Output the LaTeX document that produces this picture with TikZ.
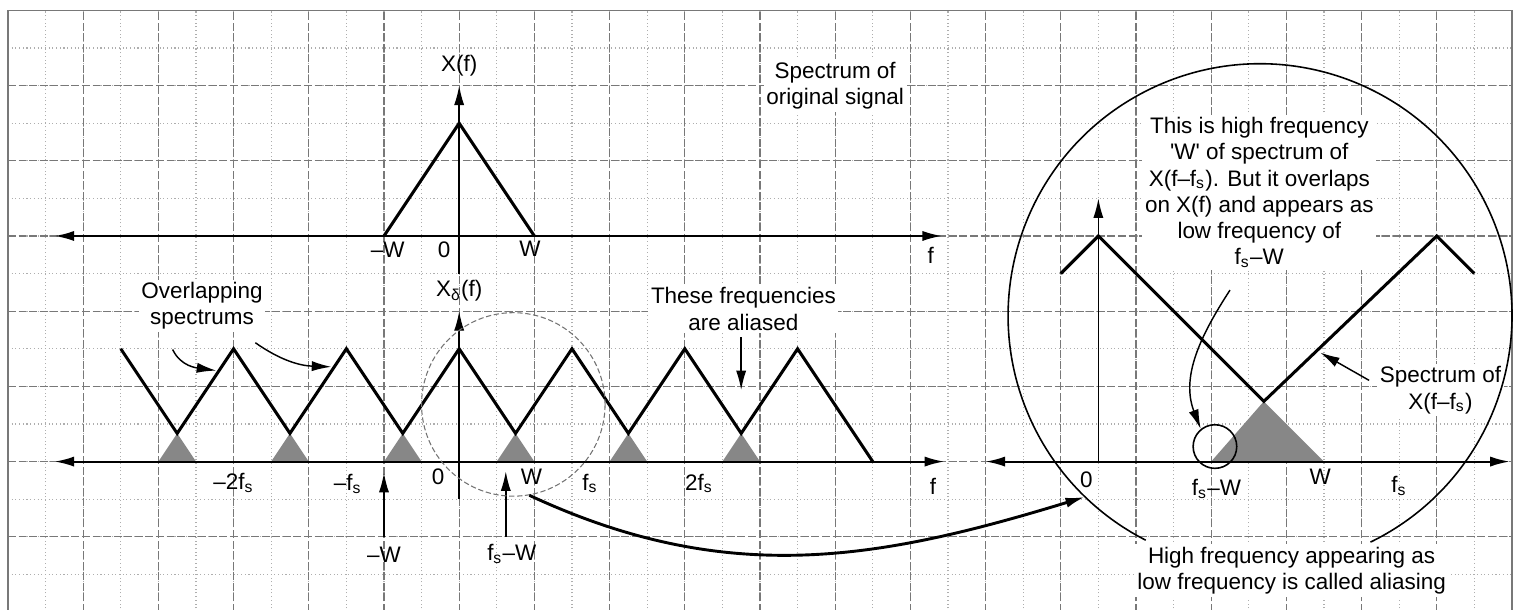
\documentclass[tikz,border=0pt]{standalone}
\usepackage{fontspec}
\setmainfont{Liberation Sans}
\usepackage{tikz}
\usetikzlibrary{arrows.meta, calc}
\definecolor{TemaRejilla}{RGB}{120,120,120}
\definecolor{TemaSombra}{RGB}{135,135,135}
\colorlet{RejillaFina}{TemaRejilla!60}

\begin{document}
\begin{tikzpicture}[font=\fontsize{8.5}{9.9}\selectfont, >={Latex[length=2.6mm,width=1.35mm]},
  eje/.style={<->, line width=0.75pt},
  flecha/.style={->, line width=0.55pt},
  espectro/.style={line width=1.15pt},
  sombra/.style={fill=TemaSombra},
  nota/.style={fill=white, inner sep=1pt, align=center},
  rotulo/.style={inner sep=1pt}]
  \useasboundingbox (-0.106,0.027) rectangle (20.12,8.138);
  \draw[RejillaFina, densely dotted, line width=0.4pt] (0,0) grid[step=0.5] (20,8);
  \draw[TemaRejilla, dash pattern=on 3pt off 1pt, line width=0.45pt] (0,0) grid (20,8);
  \draw[TemaRejilla, line width=0.6pt] (0,0) rectangle (20,8);

  \node[nota] (orig) at (11.0,7.0) {Spectrum of\\original signal};
  \node[nota] (solap) at (2.58,4.07) {Overlapping\\spectrums};
  \node[nota] (alias) at (9.78,4.03) {These frequencies\\are aliased};
  \node[nota] (alta) at (16.64,5.58) {This is high frequency\\\textquotesingle W\textquotesingle{} of spectrum of\\X(f–f\textsubscript{s}). But it overlaps\\on X(f) and appears as\\low frequency of\\f\textsubscript{s}–W};
  \node[nota] (despl) at (19.05,2.95) {Spectrum of\\X(f–f\textsubscript{s})};
  \node[nota] (concl) at (17.07,0.55) {High frequency appearing as\\low frequency is called aliasing};

  \coordinate (a1) at (0.62,5); \coordinate (b1) at (12.42,5);
  \coordinate (v1) at (6,4.5); \coordinate (t1) at (6,7);
  \draw[espectro] (5,5) -- (6,6.5) -- (7,5);
  \draw[eje] (a1) -- (b1);
  \draw[flecha] (v1) -- (t1);
  \node[rotulo] (xf) at (6,7.27) {X(f)};
  \node[rotulo] (mw1) at (5.05,4.82) {–W};
  \node[rotulo] (c1) at (5.8,4.82) {0};
  \node[rotulo] (w1) at (6.94,4.83) {W};
  \node[rotulo] (f1) at (12.27,4.74) {f};

  \coordinate (a2) at (0.62,2); \coordinate (b2) at (12.45,2);
  \coordinate (v2) at (6,1.5); \coordinate (t2) at (6,4);
  \foreach \v in {2.25,3.75,5.25,6.75,8.25,9.75}
    \fill[sombra] ({\v-0.25},2) -- (\v,2.375) -- ({\v+0.25},2) -- cycle;
  \draw[espectro] (1.5,3.5) \foreach \c in {3,4.5,6,7.5,9,10.5} { -- ({\c-0.75},2.375) -- (\c,3.5) } -- (11.5,2);
  \draw[eje] (a2) -- (b2);
  \draw[flecha] (v2) -- (t2);
  \node[rotulo] (xd) at (6,4.27) {X\textsubscript{δ}(f)};
  \node[rotulo] (m2fs) at (3.0,1.72) {–2f\textsubscript{s}};
  \node[rotulo] (mfs) at (4.52,1.70) {–f\textsubscript{s}};
  \node[rotulo] (c2) at (5.72,1.8) {0};
  \node[rotulo] (w2) at (6.96,1.8) {W};
  \node[rotulo] (fs2) at (7.74,1.71) {f\textsubscript{s}};
  \node[rotulo] (dfs) at (9.19,1.71) {2f\textsubscript{s}};
  \node[rotulo] (f2) at (12.3,1.67) {f};
  \node[rotulo] (mw2) at (5.0,0.76) {–W};
  \node[rotulo] (fsw2) at (6.7,0.77) {f\textsubscript{s}–W};
  \coordinate (pmw) at (5,1.85); \coordinate (pfsw) at (6.62,1.87);
  \draw[flecha] (5,1.0) -- (pmw);
  \draw[flecha] (6.62,1.0) -- (pfsw);

  \coordinate (s1) at (2.19,3.49); \coordinate (e1) at (2.77,3.21);
  \coordinate (s2) at (3.29,3.58); \coordinate (e2) at (4.30,3.26);
  \draw[flecha] (s1) to[out=-65, in=172] (e1);
  \draw[flecha] (s2) to[out=-35, in=178] (e2);
  \coordinate (s3) at (9.75,3.65); \coordinate (e3) at (9.75,2.95);
  \draw[flecha] (s3) -- (e3);

  \node[circle, draw=black!55, dash pattern=on 2pt off 1pt, line width=0.4pt, minimum size=2.44cm, inner sep=0pt] (lupa) at (6.72,2.76) {};
  \coordinate (centro) at (16.65,3.94);
  \coordinate (golpe) at ($(centro)+(226:3.35)$);
  \draw[line width=0.6pt] ($(centro)+(296:3.35)$) arc[start angle=296, end angle=603, radius=3.35];
  \draw[->, line width=1.1pt] (lupa.-80) to[out=-25, in=197] (golpe);

  \coordinate (a3) at (13.0,2); \coordinate (b3) at (19.97,2);
  \coordinate (v3) at (14.5,2); \coordinate (t3) at (14.5,5.5);
  \fill[sombra] (16,2) -- (16.7,2.8) -- (17.5,2) -- cycle;
  \draw[espectro] (14,4.5) -- (14.5,5) -- (16.7,2.8) -- (19,5) -- (19.5,4.5);
  \draw[eje] (a3) -- (b3);
  \draw[flecha] (v3) -- (t3);
  \node[circle, draw, line width=0.6pt, minimum size=0.58cm, inner sep=0pt] (aro) at (16.05,2.2) {};
  \coordinate (s4) at (16.25,4.28);
  \draw[flecha] (s4) to[out=237, in=111] (aro.129);
  \coordinate (s5) at (18.1,3.08); \coordinate (e5) at (17.45,3.45);
  \draw[flecha] (s5) -- (e5);
  \node[rotulo] (c3) at (14.34,1.76) {0};
  \node[rotulo] (fsw3) at (16.07,1.64) {f\textsubscript{s}–W};
  \node[rotulo] (w3) at (17.45,1.8) {W};
  \node[rotulo] (fs3) at (18.5,1.68) {f\textsubscript{s}};
\end{tikzpicture}
\end{document}
